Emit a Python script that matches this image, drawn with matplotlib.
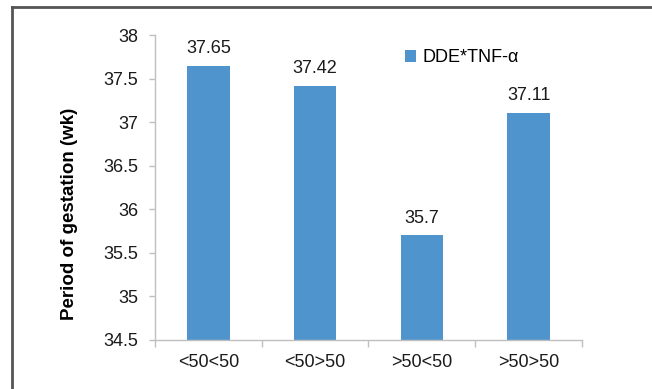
import matplotlib
matplotlib.use("Agg")
import matplotlib.pyplot as plt
from matplotlib.lines import Line2D

plt.rcParams["font.family"] = ["Liberation Sans", "DejaVu Sans"]

groups = ["<50<50", "<50>50", ">50<50", ">50>50"]
gestation_wk = [37.65, 37.42, 35.7, 37.11]
series_name = "DDE*TNF-\u03b1"

bar_color = "#4f94cd"
axis_color = "#bfbfbf"
text_color = "#1a1a1a"
fs = 13

fig = plt.figure(figsize=(6.52, 3.89), dpi=100)
ax = fig.add_axes([0.2377, 0.126, 0.6549, 0.784])

x = range(len(groups))
ax.bar(x, [v - 34.5 for v in gestation_wk], bottom=34.5, width=0.4,
       color=bar_color, label=series_name, zorder=2)

# value labels above each bar
for xi, v in zip(x, gestation_wk):
    ax.text(xi, v + 0.1, f"{v:g}", ha="center", va="bottom", fontsize=fs,
            color=text_color)

ax.set_xlim(-0.5, len(groups) - 0.5)
ax.set_ylim(34.5, 38)
ax.set_yticks([34.5, 35, 35.5, 36, 36.5, 37, 37.5, 38])
ax.set_yticklabels(["34.5", "35", "35.5", "36", "36.5", "37", "37.5", "38"])
ax.set_xticks(list(x))
ax.set_xticklabels(groups)

# category boundary ticks on the x axis
ax.set_xticks([i - 0.5 for i in range(len(groups) + 1)], minor=True)
ax.tick_params(axis="x", which="major", length=0, pad=10, labelsize=fs,
               labelcolor=text_color)
ax.tick_params(axis="x", which="minor", length=5, color=axis_color, width=1)
ax.tick_params(axis="y", length=4, color=axis_color, width=1, pad=8,
               labelsize=fs, labelcolor=text_color)

for side in ("top", "right"):
    ax.spines[side].set_visible(False)
for side in ("left", "bottom"):
    ax.spines[side].set_color(axis_color)
    ax.spines[side].set_linewidth(1)

ax.set_ylabel("Period of gestation (wk)", fontsize=13.5, fontweight="bold")
ax.yaxis.label.set_va("center")
ax.yaxis.set_label_coords(-0.2, 0.413)

ax.legend(loc="center left", bbox_to_anchor=(0.564, 0.925), frameon=False,
          fontsize=fs, handlelength=0.6, handleheight=0.6, handletextpad=0.4,
          borderpad=0)

# dark frame along top and left edges
fig.add_artist(Line2D([12 / 652, 1.0], [1 - 7 / 389, 1 - 7 / 389],
                      transform=fig.transFigure, color="#555555", lw=2))
fig.add_artist(Line2D([12 / 652, 12 / 652], [0, 1 - 7 / 389],
                      transform=fig.transFigure, color="#555555", lw=2))

fig.savefig("out.png", dpi=100)
